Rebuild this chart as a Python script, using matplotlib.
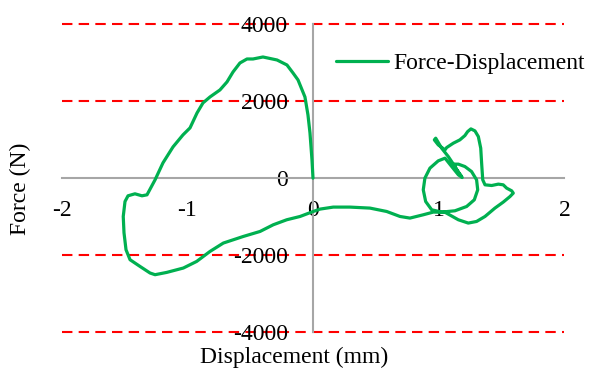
import matplotlib
matplotlib.use("Agg")
import matplotlib.pyplot as plt

# Displacement (mm) and force (N)
displacement = [
    0.000, -0.008, -0.024, -0.040, -0.064, -0.119, -0.159, -0.207, -0.286, -0.398,
    -0.477, -0.525, -0.581, -0.636, -0.684, -0.740, -0.819, -0.875, -0.922, -0.978,
    -1.034, -1.113, -1.193, -1.256, -1.320, -1.360, -1.416, -1.471, -1.495, -1.509,
    -1.503, -1.487, -1.455, -1.376, -1.296, -1.256, -1.163, -1.031, -0.925, -0.819,
    -0.713, -0.554, -0.421, -0.316, -0.209, -0.103, 0.002, 0.056, 0.161, 0.294,
    0.453, 0.586, 0.692, 0.771, 0.877, 0.957, 1.050, 1.156, 1.235, 1.301,
    1.368, 1.447, 1.513, 1.567, 1.593, 1.580, 1.540, 1.513, 1.474, 1.421,
    1.368, 1.350, 1.342, 1.334, 1.315, 1.288, 1.256, 1.230, 1.208, 1.168,
    1.116, 1.063, 1.050, 0.996, 0.965, 0.976, 1.023, 1.076, 1.129, 1.169,
    1.187, 1.156, 1.103, 1.050, 0.996, 0.930, 0.890, 0.877, 0.896, 0.944,
    1.023, 1.129, 1.222, 1.283, 1.310, 1.301, 1.261, 1.208, 1.156, 1.116,
    1.143, 1.177,
]
force = [
    0, 476, 1178, 1646, 2114, 2556, 2738, 2946, 3076, 3154,
    3102, 3102, 2998, 2764, 2504, 2296, 2114, 1958, 1698, 1308,
    1126, 814, 398, -44, -434, -460, -408, -460, -608, -998,
    -1422, -1864, -2124, -2298, -2470, -2514, -2454, -2340, -2168, -1908,
    -1690, -1518, -1388, -1214, -1084, -998, -868, -806, -754, -754,
    -780, -868, -998, -1040, -954, -884, -889, -1084, -1170, -1128,
    -998, -780, -624, -478, -390, -330, -260, -174, -156, -192,
    -174, -44, 346, 780, 1082, 1230, 1282, 1212, 1108, 996,
    910, 796, 736, 866, 996, 1040, 780, 562, 302, 86,
    16, 86, 302, 520, 450, 260, 0, -304, -608, -824,
    -884, -850, -738, -564, -304, -44, 172, 302, 364, 364,
    216, 68,
]

x_ticks = [-2, -1, 0, 1, 2]
y_ticks = [-4000, -2000, 0, 2000, 4000]
grid_levels = [-4000, -2000, 2000, 4000]

plt.rcParams['font.family'] = ['Liberation Serif', 'DejaVu Serif']
plt.rcParams['font.size'] = 17

fig = plt.figure(figsize=(5.92, 3.71), dpi=100)
ax = fig.add_axes([0.1039, 0.1057, 0.8496, 0.8283])

# red dashed gridlines
for g in grid_levels:
    ax.axhline(g, color='red', linestyle=(0, (5, 3)), linewidth=1.5, zorder=1,
               clip_on=False)

ax.plot(displacement, force, color='#00B050', linewidth=2.3, label='Force-Displacement',
        zorder=3, solid_joinstyle='round', solid_capstyle='round')

ax.set_xlim(-2, 2)
ax.set_ylim(-4000, 4000)

# axes crossing at zero, Excel style
ax.spines['left'].set_position(('data', 0))
ax.spines['bottom'].set_position(('data', 0))
ax.spines['right'].set_visible(False)
ax.spines['top'].set_visible(False)
for s in ['left', 'bottom']:
    ax.spines[s].set_color('#A6A6A6')
    ax.spines[s].set_linewidth(1.5)
    ax.spines[s].set_zorder(2)

ax.set_xticks(x_ticks)
ax.set_yticks(y_ticks)
ax.set_xticklabels([str(v) for v in x_ticks])
ax.set_yticklabels([str(v) for v in y_ticks])
ax.tick_params(axis='x', length=0, pad=16)
ax.tick_params(axis='y', length=0, pad=18)
ax.patch.set_alpha(0)

fig.text(0.497, 0.037, 'Displacement (mm)', ha='center', va='center')
fig.text(0.034, 0.49, 'Force (N)', ha='center', va='center', rotation=90)

ax.legend(loc='center left', bbox_to_anchor=(0.545, 0.873), frameon=False,
          handlelength=2.2, handletextpad=0.25, borderaxespad=0, borderpad=0)

fig.savefig('out.png', dpi=100)
